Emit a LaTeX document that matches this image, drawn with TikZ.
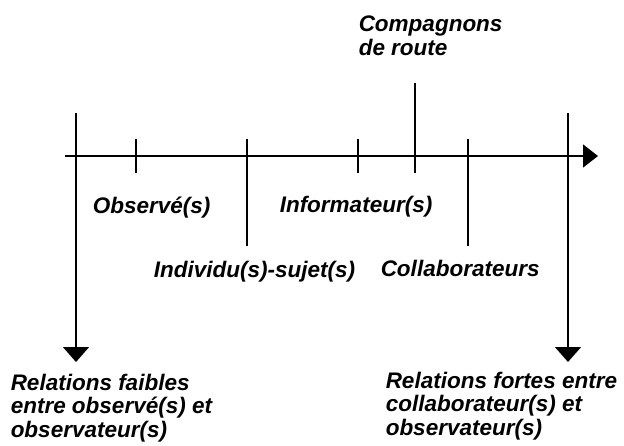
\documentclass[tikz,border=0pt]{standalone}
\usepackage{fontspec}
\setmainfont{Liberation Sans}
\usetikzlibrary{arrows.meta}

\begin{document}
\begin{tikzpicture}[x=1pt,y=-1pt,>={Triangle[length=15pt,width=26pt]},line width=1.5pt]
  \useasboundingbox (0,0) rectangle (624,445);
  \tikzset{lab/.style={font=\fontsize{22.5}{23.5}\selectfont\bfseries\itshape,inner sep=0pt,anchor=base west,align=left}}
  % Axis
  \coordinate (axL) at (65,156);
  \coordinate (axR) at (598,156);
  \draw[-{Triangle[length=15pt,width=23pt]}] (axL) -- (axR);
  % Short ticks
  \foreach \x in {136,358} {\draw (\x,139) -- (\x,173);}
  % Long ticks down to the labels
  \foreach \x in {247,468} {\draw (\x,139) -- (\x,246);}
  % Tick up to the top label
  \draw (415,83) -- (415,173);
  % Labels (base = last line)
  \node[lab] (comp) at (358,55) {Compagnons\\de route};
  \node[lab] (obs) at (92,213) {Observé(s)};
  \node[lab] (info) at (279,212) {Informateur(s)};
  \node[lab] (indiv) at (153,277) {Individu(s)-sujet(s)};
  \node[lab] (collab) at (380,276) {Collaborateurs};
  \node[lab] (weak) at (10,437) {Relations faibles\\entre observé(s) et\\observateur(s)};
  \node[lab] (strong) at (385,435) {Relations fortes entre\\collaborateur(s) et\\observateur(s)};
  % Outer arrows
  \coordinate (weakTop) at (76,113);
  \coordinate (weakEnd) at (76,362);
  \coordinate (strongTop) at (568,113);
  \coordinate (strongEnd) at (568,362);
  \draw[->] (weakTop) -- (weakEnd);
  \draw[->] (strongTop) -- (strongEnd);
\end{tikzpicture}
\end{document}
